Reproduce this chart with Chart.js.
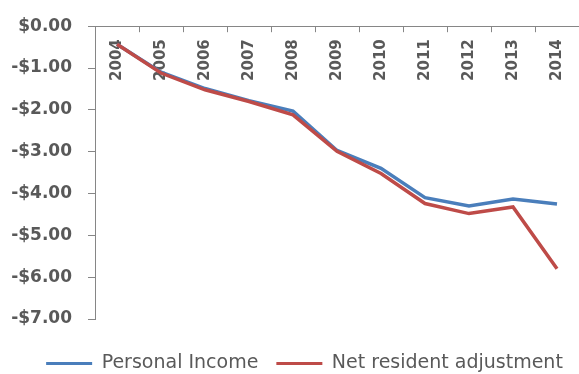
<!DOCTYPE html>
<html>
<head>
<meta charset="utf-8">
<script src="https://cdn.jsdelivr.net/npm/chart.js@4"></script>
<style>
  html, body { margin: 0; padding: 0; background: #fff; }
  #wrap { width: 579px; height: 374px; }
</style>
</head>
<body>
<div id="wrap"><canvas id="chart" width="579" height="374"></canvas></div>
<script>
// years along the top axis
const years = ['2004', '2005', '2006', '2007', '2008', '2009', '2010', '2011', '2012', '2013', '2014'];
// series (dollars)
const personalIncome = [-0.43, -1.10, -1.49, -1.78, -2.03, -2.97, -3.40, -4.10, -4.30, -4.13, -4.25];
const netResidentAdj = [-0.43, -1.12, -1.52, -1.80, -2.12, -2.99, -3.52, -4.24, -4.48, -4.32, -5.80];
const yMin = -7;
const yMax = 0;

const AXIS_GRAY = '#868686';
const TEXT_GRAY = '#595959';
const FONT = '"DejaVu Sans", Verdana, sans-serif';

// year labels sit under the top axis, rotated, plus the little tick marks
const topAxisLabels = {
  id: 'topAxisLabels',
  afterLayout(chart) {
    // legend is centred under the plot, not the whole canvas, and sits lower
    const lg = chart.legend;
    lg.left += 15; lg.right += 15;
    lg.top += 17; lg.bottom += 17;
  },
  beforeDatasetsDraw(chart) {
    const ctx = chart.ctx;
    const x = chart.scales.x;
    const top = chart.chartArea.top;
    const step = x.getPixelForValue(1) - x.getPixelForValue(0);

    ctx.save();
    ctx.strokeStyle = AXIS_GRAY;
    ctx.lineWidth = 1;
    for (let i = 0; i <= years.length; i++) {
      const px = Math.round(x.getPixelForValue(0) - step / 2 + i * step) + 0.5;
      ctx.beginPath();
      ctx.moveTo(px, top);
      ctx.lineTo(px, top + 6);
      ctx.stroke();
    }

    ctx.fillStyle = TEXT_GRAY;
    ctx.font = 'bold 15px ' + FONT;
    ctx.textAlign = 'right';
    ctx.textBaseline = 'middle';
    years.forEach((y, i) => {
      ctx.save();
      ctx.translate(x.getPixelForValue(i), top + 13);
      ctx.rotate(-Math.PI / 2);
      ctx.fillText(y, 0, 0);
      ctx.restore();
    });
    ctx.restore();
  }
};

const ctx = document.getElementById('chart').getContext('2d');
new Chart(ctx, {
  type: 'line',
  data: {
    labels: years,
    datasets: [
      {
        label: 'Personal Income',
        data: personalIncome,
        borderColor: '#4A7EBB',
        backgroundColor: '#4A7EBB',
        borderWidth: 3.5,
        pointRadius: 0,
        tension: 0,
        order: 1
      },
      {
        label: 'Net resident adjustment',
        data: netResidentAdj,
        borderColor: '#BE4B48',
        backgroundColor: '#BE4B48',
        borderWidth: 3.5,
        pointRadius: 0,
        tension: 0,
        order: 0
      }
    ]
  },
  options: {
    responsive: false,
    animation: false,
    layout: { padding: { left: 0, right: 0, top: 25, bottom: 8 } },
    plugins: {
      tooltip: { enabled: false },
      legend: {
        position: 'bottom',
        labels: {
          color: TEXT_GRAY,
          font: { family: FONT, size: 19 },
          boxWidth: 46,
          boxHeight: 3,
          padding: 18,
          generateLabels(chart) {
            return chart.data.datasets.map((ds, i) => ({
              text: ds.label,
              fillStyle: ds.borderColor,
              strokeStyle: ds.borderColor,
              lineWidth: 0,
              fontColor: TEXT_GRAY,
              datasetIndex: i
            }));
          }
        }
      }
    },
    scales: {
      x: {
        position: 'top',
        offset: true,
        ticks: { display: false },
        grid: { display: true, offset: true, drawOnChartArea: false, drawTicks: false },
        border: { display: true, color: AXIS_GRAY, width: 1 }
      },
      y: {
        min: yMin,
        max: yMax,
        ticks: {
          stepSize: 1,
          color: TEXT_GRAY,
          font: { family: FONT, size: 17, weight: 'bold' },
          padding: 16,
          callback: (v) => (v < 0 ? '-$' : '$') + Math.abs(v).toFixed(2)
        },
        grid: { drawOnChartArea: false, drawTicks: true, tickLength: 7, color: AXIS_GRAY },
        border: { display: true, color: AXIS_GRAY, width: 1 },
        afterFit(scale) { scale.width = 95; }
      }
    }
  },
  plugins: [topAxisLabels]
});
</script>
</body>
</html>
